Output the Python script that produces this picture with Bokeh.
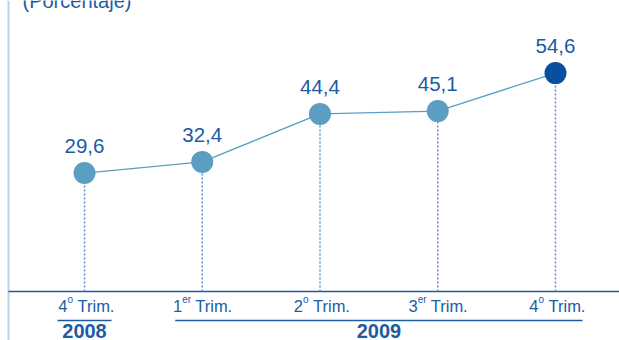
from bokeh.plotting import figure
from bokeh.models import ColumnDataSource, Range1d
from bokeh.core.properties import value
from bokeh.embed import file_html
from bokeh.resources import INLINE

# Quarterly series (percent)
quarters = ["4", "1", "2", "3", "4"]
quarter_sups = ["o", "er", "o", "er", "o"]
values = [29.6, 32.4, 44.4, 45.1, 54.6]
years = ["2008", "2009"]
year_spans = [(0, 0), (1, 4)]  # first / last quarter index of each year
title = "(Porcentaje)"

W, H = 619, 340
DARK = "#1c5ca4"
POINT = "#5b9ec2"
LAST = "#0a4f9e"

# pixel geometry
x0_px, dx_px = 84, 117.75       # first category centre and spacing
base_px, ppu = 291, 4.0         # zero line from top, pixels per unit

idx = list(range(len(values)))
x_start = -x0_px / dx_px
x_end = (W - x0_px) / dx_px
y_end = base_px / ppu
y_start = (base_px - H) / ppu

p = figure(width=W, height=H, output_backend="svg", toolbar_location=None,
           x_range=Range1d(x_start, x_end), y_range=Range1d(y_start, y_end),
           min_border=0)
p.axis.visible = False
p.grid.visible = False
p.outline_line_color = None
p.background_fill_color = "white"
p.border_fill_color = "white"

left_x = x_start + 8 / dx_px
# left frame line
p.segment(x0=[left_x], y0=[y_start], x1=[left_x], y1=[y_end],
          line_color="#b9cfe2", line_width=2)
# category axis line
p.segment(x0=[left_x], y0=[0], x1=[x_end], y1=[0], line_color=DARK, line_width=1.6)

src = ColumnDataSource(dict(
    x=idx, y=values, zero=[0] * len(values),
    lab=[f"{v:.1f}".replace(".", ",") for v in values],
    color=[POINT] * (len(values) - 1) + [LAST],
))

# drop lines
p.segment(x0="x", y0="zero", x1="x", y1="y", source=src,
          line_color="#5c8fcc", line_width=1.5, line_dash="2 2")
# connecting line
p.line("x", "y", source=src, line_color=POINT, line_width=1.3)
p.scatter("x", "y", source=src, size=22, fill_color="color", line_color=None)
# value labels
p.text("x", "y", text="lab", source=src, text_align="center",
       text_baseline="alphabetic", y_offset=-27,
       text_font=value("Liberation Sans"), text_font_size="20.5px",
       text_color=DARK)

# category tick labels: number + superscript + "Trim."
sup_w = {"o": 6, "er": 9}
tick = ColumnDataSource(dict(
    x=idx, y=[0] * len(idx), num=quarters, sup=quarter_sups,
    trim=["Trim."] * len(idx),
    num_off=[-11 - sup_w[s] for s in quarter_sups],
    sup_off=[-11 - sup_w[s] for s in quarter_sups],
))
font = value("Liberation Sans")
p.text("x", "y", text="num", source=tick, x_offset="num_off", y_offset=14,
       text_align="right", text_baseline="alphabetic",
       text_font=font, text_font_size="16.5px", text_color=DARK)
p.text("x", "y", text="sup", source=tick, x_offset="sup_off", y_offset=8,
       text_align="left", text_baseline="alphabetic",
       text_font=font, text_font_size="10px", text_color=DARK)
p.text("x", "y", text="trim", source=tick, x_offset=-7, y_offset=14,
       text_align="left", text_baseline="alphabetic",
       text_font=font, text_font_size="16.5px", text_color=DARK)

# year group underlines and labels
half = 27 / dx_px
ul_y = -(320 - base_px) / ppu
p.segment(x0=[a - half for a, b in year_spans], y0=[ul_y] * len(years),
          x1=[b + half for a, b in year_spans], y1=[ul_y] * len(years),
          line_color=DARK, line_width=1.6)
ysrc = ColumnDataSource(dict(x=[(a + b) / 2 for a, b in year_spans],
                             y=[0] * len(years), t=years))
p.text("x", "y", text="t", source=ysrc, y_offset=39, text_align="center",
       text_baseline="alphabetic", text_font=value("Liberation Sans"),
       text_font_size="20px", text_font_style="bold", text_color=DARK)

# unit note at the top
p.text(x=[x_start + 22 / dx_px], y=[y_end], text=[title], y_offset=0,
       text_align="left", text_baseline="alphabetic",
       text_font=value("Liberation Sans"), text_font_size="20px", text_color=DARK)

open("out.html", "w").write(file_html(p, INLINE))
